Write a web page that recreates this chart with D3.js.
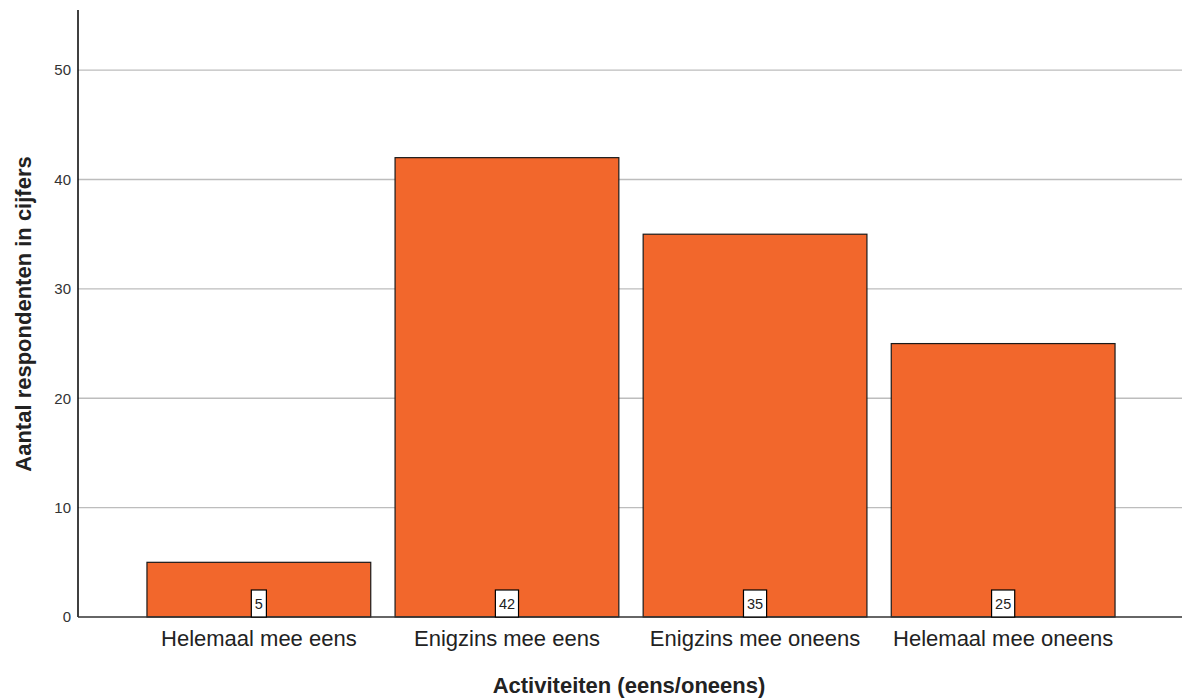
<!DOCTYPE html>
<html><head><meta charset="utf-8">
<script src="https://cdn.jsdelivr.net/npm/d3@7"></script>
<style>body{margin:0;background:#fff}svg{display:block}</style>
</head><body>
<script>
const categories = ["Helemaal mee eens","Enigzins mee eens","Enigzins mee oneens","Helemaal mee oneens"];
const values = [5, 42, 35, 25];
const yTicks = [0, 10, 20, 30, 40, 50];
const xTitle = "Activiteiten (eens/oneens)";
const yTitle = "Aantal respondenten in cijfers";

(function () {
const W = 1182, H = 700;
const mLeft = 78, mRight = 1182, mTop = 10, mBottom = 617;
const FONT = "Arial, 'Liberation Sans', sans-serif";
const svg = d3.select("body").append("svg").attr("width", W).attr("height", H);

const y = d3.scaleLinear().domain([0, 55.5]).range([mBottom, mTop]);
const x = d3.scaleBand().domain(categories).range([77.5, 1184.5]).paddingInner(0.098).paddingOuter(0.28);

// gridlines
svg.append("g").selectAll("line").data(yTicks.filter(d => d > 0)).join("line")
  .attr("x1", mLeft).attr("x2", mRight)
  .attr("y1", d => y(d)).attr("y2", d => y(d))
  .attr("stroke", "#bdbdbd").attr("stroke-width", 1.3);

// y axis
const ya = svg.append("g").attr("transform", `translate(${mLeft},0)`)
  .call(d3.axisLeft(y).tickValues(yTicks).tickSize(0).tickPadding(7));
ya.select(".domain").remove();
ya.selectAll("text").attr("font-family", FONT).attr("font-size", 15).attr("fill", "#333");
svg.append("line").attr("x1", mLeft).attr("x2", mLeft).attr("y1", mTop).attr("y2", mBottom)
  .attr("stroke", "#000").attr("stroke-width", 1.5);

// bars
svg.append("g").selectAll("rect").data(values).join("rect")
  .attr("x", (d, i) => x(categories[i]))
  .attr("width", x.bandwidth())
  .attr("y", d => y(d))
  .attr("height", d => y(0) - y(d))
  .attr("fill", "#f2672c").attr("stroke", "#1a1a1a").attr("stroke-width", 1.2);

// x axis line
svg.append("line").attr("x1", mLeft).attr("x2", mRight).attr("y1", mBottom).attr("y2", mBottom)
  .attr("stroke", "#333").attr("stroke-width", 1.3);

// value labels
const lbl = svg.append("g").selectAll("g").data(values).join("g")
  .attr("transform", (d, i) => `translate(${x(categories[i]) + x.bandwidth()/2},0)`);
lbl.append("text").text(d => d)
  .attr("text-anchor", "middle").attr("y", mBottom - 8)
  .attr("font-family", FONT).attr("font-size", 14.5).attr("fill", "#222")
  .each(function() {
    const b = this.getBBox();
    d3.select(this.parentNode).insert("rect", "text")
      .attr("x", b.x - 3.5).attr("width", b.width + 7)
      .attr("y", mBottom - 27).attr("height", 27)
      .attr("fill", "#fff").attr("stroke", "#000").attr("stroke-width", 1.2);
  });

// category labels
svg.append("g").selectAll("text").data(categories).join("text")
  .attr("x", d => x(d) + x.bandwidth()/2).attr("y", 646)
  .attr("text-anchor", "middle")
  .attr("font-family", FONT).attr("font-size", 22).attr("fill", "#222")
  .text(d => d);

// axis titles
svg.append("text").attr("x", 629).attr("y", 693).attr("text-anchor", "middle")
  .attr("font-family", FONT).attr("font-size", 22).attr("font-weight", "bold").attr("fill", "#222")
  .text(xTitle);
svg.append("text").attr("transform", "translate(31,314) rotate(-90)").attr("text-anchor", "middle")
  .attr("font-family", FONT).attr("font-size", 22).attr("font-weight", "bold").attr("fill", "#222")
  .text(yTitle);
})();
</script>
</body></html>
